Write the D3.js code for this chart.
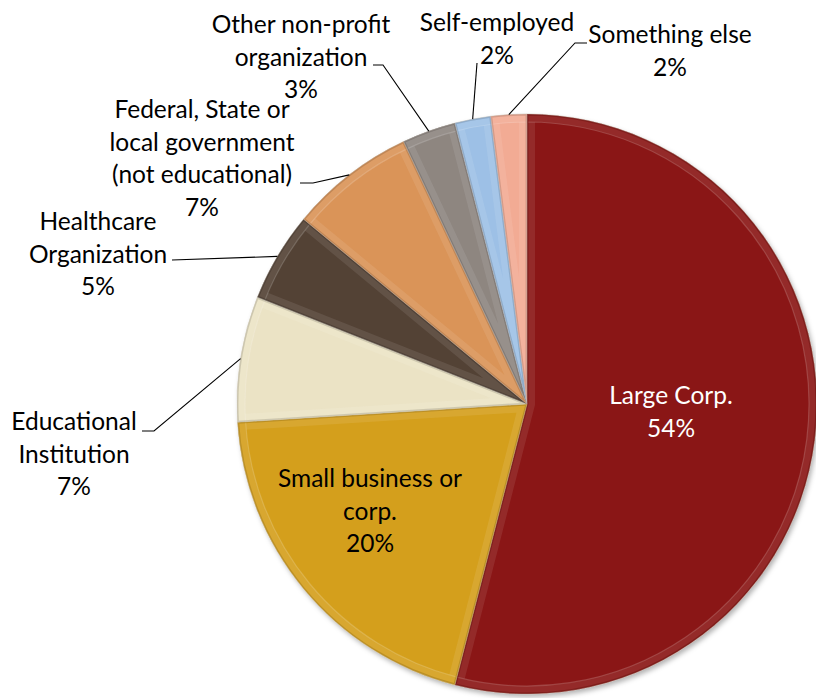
<!DOCTYPE html>
<html>
<head>
<meta charset="utf-8">
<script src="https://cdn.jsdelivr.net/npm/d3@7"></script>
<style>
  html, body { margin: 0; padding: 0; background: #fff; }
  svg { display: block; }
  text { font-family: Lato, "Open Sans", sans-serif; }
</style>
</head>
<body>
<svg id="chart" width="816" height="698"></svg>
<script>
// Employer type of respondents, share in percent
const categories = [
  "Large Corp.",
  "Small business or corp.",
  "Educational Institution",
  "Healthcare Organization",
  "Federal, State or local government (not educational)",
  "Other non-profit organization",
  "Self-employed",
  "Something else"
];
const shares = [54, 20, 7, 5, 7, 3, 2, 2];
const labelLines = [
  ["Large Corp."],
  ["Small business or", "corp."],
  ["Educational", "Institution"],
  ["Healthcare", "Organization"],
  ["Federal, State or", "local government", "(not educational)"],
  ["Other non-profit", "organization"],
  ["Self-employed"],
  ["Something else"]
];
const colors = ["#8a1713", "#d49f1e", "#ebe3c5", "#524236", "#da9458", "#8e8680", "#9dc0e6", "#f2ab94"];

// label placement: text centre, first baseline, and the elbow of the leader line
const labelLayout = [
  { x: 671, y: 404, fill: "#fff" },
  { x: 370, y: 487, fill: "#000" },
  { x: 74,  y: 430, fill: "#000", leader: [[142, 431], [154, 431]] },
  { x: 98,  y: 230, fill: "#000", leader: [[172, 260]] },
  { x: 202, y: 118, fill: "#000", leader: [[300, 183], [313, 183]] },
  { x: 301, y: 33,  fill: "#000", leader: [[373, 65], [383, 65]] },
  { x: 497, y: 31,  fill: "#000", leader: [[477, 63]] },
  { x: 670, y: 43,  fill: "#000", leader: [[587, 43], [575, 43]] }
];

const cx = 527, cy = 404, R = 290;
const lineGap = 32.5;
const fontSize = 24.5;

const svg = d3.select("#chart");
const defs = svg.append("defs");

defs.append("filter").attr("id", "pieShadow")
  .attr("x", "-10%").attr("y", "-10%").attr("width", "120%").attr("height", "120%")
  .append("feDropShadow")
  .attr("dx", 2).attr("dy", 3).attr("stdDeviation", 2.5)
  .attr("flood-color", "#000").attr("flood-opacity", 0.3);

const data = shares.map((v, i) => ({ name: categories[i], value: v, i }));
const pie = d3.pie().sort(null).value(d => d.value).startAngle(0).endAngle(2 * Math.PI);
const arcs = pie(data);

const arc = d3.arc().innerRadius(0).outerRadius(R);
const arcInset = d3.arc().innerRadius(0).outerRadius(R - 8);

const g = svg.append("g").attr("transform", `translate(${cx},${cy})`);

// base slices with a soft drop shadow
const base = g.append("g").attr("filter", "url(#pieShadow)");
base.selectAll("path.slice")
  .data(arcs)
  .join("path")
  .attr("class", "slice")
  .attr("d", arc)
  .attr("fill", d => colors[d.data.i]);

// bevel: a lighter band running along each slice's edges
arcs.forEach(d => {
  const id = "clip" + d.data.i;
  defs.append("clipPath").attr("id", id)
    .append("path").attr("d", arc(d)).attr("transform", `translate(${cx},${cy})`);
  const c = d3.color(colors[d.data.i]);
  const light = d3.interpolateRgb(c, "#fff")(0.25);
  const dark = c.darker(0.7);
  const sg = svg.append("g").attr("clip-path", `url(#${id})`)
    .append("g").attr("transform", `translate(${cx},${cy})`);
  sg.append("path").attr("d", arc(d))
    .attr("fill", "none").attr("stroke", light).attr("stroke-width", 16).attr("stroke-opacity", 0.35);
  sg.append("path").attr("d", arcInset(d))
    .attr("fill", "none").attr("stroke", d3.interpolateRgb(c, "#fff")(0.4))
    .attr("stroke-width", 1.2).attr("stroke-opacity", 0.45);
  sg.append("path").attr("d", arc(d))
    .attr("fill", "none").attr("stroke", dark).attr("stroke-width", 3).attr("stroke-opacity", 0.55);
});

// thin light seams between slices
g.append("g").selectAll("path")
  .data(arcs)
  .join("path")
  .attr("d", arc)
  .attr("fill", "none")
  .attr("stroke", "#d8d2c8")
  .attr("stroke-width", 0.8)
  .attr("stroke-linejoin", "round");

// leader lines from label to slice rim
const leaderLine = d3.line();
arcs.forEach(d => {
  const lay = labelLayout[d.data.i];
  if (!lay.leader) return;
  const a = (d.startAngle + d.endAngle) / 2;
  const rim = [cx + R * Math.sin(a), cy - R * Math.cos(a)];
  svg.append("path")
    .attr("d", leaderLine([...lay.leader, rim]))
    .attr("fill", "none")
    .attr("stroke", "#000")
    .attr("stroke-width", 1.1);
});

// labels: category lines followed by the share
arcs.forEach(d => {
  const lay = labelLayout[d.data.i];
  const lines = [...labelLines[d.data.i], d.data.value + "%"];
  const t = svg.append("text")
    .attr("text-anchor", "middle")
    .attr("font-size", fontSize)
    .attr("fill", lay.fill);
  lines.forEach((s, k) => {
    t.append("tspan").attr("x", lay.x).attr("y", lay.y + k * lineGap).text(s);
  });
});
</script>
</body>
</html>
